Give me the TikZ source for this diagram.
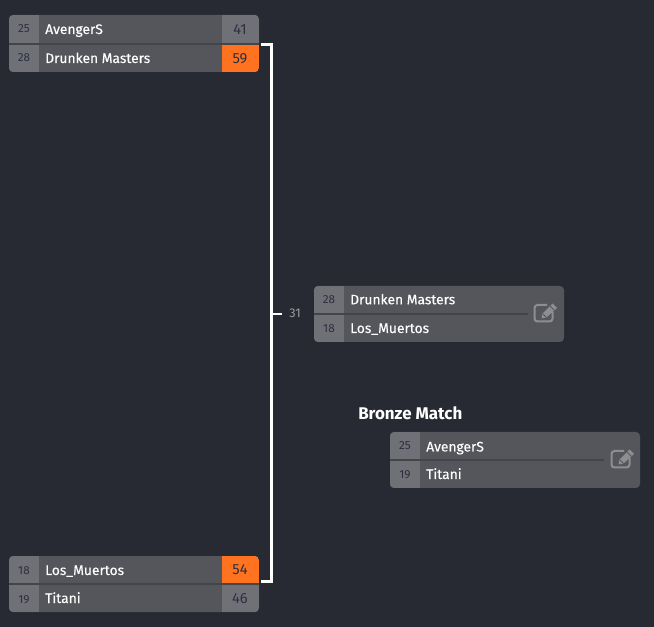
\documentclass[tikz,border=0pt]{standalone}
\usepackage{fontspec}
\setmainfont{Fira Sans}
\newfontfamily\teamf[FakeBold=0.25]{Fira Sans}
\definecolor{bgc}{HTML}{272A33}
\definecolor{mainc}{HTML}{55565B}
\definecolor{cellc}{HTML}{707177}
\definecolor{divc}{HTML}{444549}
\definecolor{orangec}{HTML}{FF7220}
\definecolor{darkt}{HTML}{2C3040}
\definecolor{iconc}{HTML}{8E8E90}
\definecolor{roundt}{HTML}{9A9BA0}
\tikzset{
  x=0.75pt,y=-0.75pt,
  team/.style={anchor=base west,inner sep=0pt,text=white,font=\teamf\fontsize{10.35}{12}\selectfont},
  seedt/.style={anchor=base,inner sep=0pt,text=darkt,font=\fontsize{8.8}{10}\selectfont},
  scoret/.style={anchor=base,inner sep=0pt,text=darkt,font=\fontsize{11}{12}\selectfont},
  boxc/.style={fill=mainc,rounded corners=3pt},
  divl/.style={draw=divc,line width=1.3pt},
  brk/.style={draw=white,line width=1.8pt,line cap=butt,line join=miter},
  iconl/.style={draw=iconc,line width=1.5pt}
}
% #1 name, #2 left x, #3 top y, #4 bottom y, #5 mid y
\newcommand{\matchbody}[5]{%
  \path[boxc] (#2,#3) rectangle (#2+250,#4);
  \begin{scope}
    \clip[rounded corners=3pt] (#2,#3) rectangle (#2+250,#4);
    \fill[cellc] (#2,#3) rectangle (#2+30,#4);
  \end{scope}
  \coordinate (#1) at (#2,#5);
}
\newcommand{\editicon}[2]{%
  \begin{scope}[shift={(#1,#2)}]
    \draw[iconl,rounded corners=2.2pt] (2,-8) -- (-10.5,-8) -- (-10.5,8.5) -- (7.5,8.5) -- (7.5,-1);
    \fill[iconc] (-3.5,5.5) -- (-2.5,0.5) -- (7.5,-9.5) -- (12,-5) -- (1.5,4.5) -- cycle;
    \draw[mainc,line width=0.7pt] (-2,1) -- (1.5,4.5);
    \draw[mainc,line width=0.7pt] (5.2,-6.8) -- (9.4,-2.6);
  \end{scope}
}
\begin{document}
\begin{tikzpicture}
\useasboundingbox (0,0) rectangle (654,627);
\fill[bgc] (0,0) rectangle (654,627);

% Match 1
\matchbody{mA}{9}{15}{72}{44}
\begin{scope}
  \clip[rounded corners=3pt] (9,15) rectangle (259,72);
  \fill[cellc] (222,15) rectangle (259,44);
  \fill[orangec] (222,44) rectangle (259,72);
\end{scope}
\draw[divl] (9,43.8) -- (259,43.8);
\node[seedt] (a1s) at (24,33) {25};
\node[team] (a1t) at (45,34) {AvengerS};
\node[scoret] (a1r) at (240,34.5) {41};
\node[seedt] (a2s) at (24,62) {28};
\node[team] (a2t) at (45,63) {Drunken Masters};
\node[scoret] (a2r) at (240,63.5) {59};

% Match 2
\matchbody{mB}{9}{556}{612}{584}
\begin{scope}
  \clip[rounded corners=3pt] (9,556) rectangle (259,612);
  \fill[orangec] (222,556) rectangle (259,584);
  \fill[cellc] (222,584) rectangle (259,612);
\end{scope}
\draw[divl] (9,584) -- (259,584);
\node[seedt] (b1s) at (24,574) {18};
\node[team] (b1t) at (45,575) {Los\_Muertos};
\node[scoret] (b1r) at (240,575) {54};
\node[seedt] (b2s) at (24,603) {19};
\node[team] (b2t) at (45,603) {Titani};
\node[scoret] (b2r) at (240,603.5) {46};

% Final
\matchbody{mC}{314}{286}{342}{314}
\draw[divl] (314,313.8) -- (528,313.8);
\node[seedt] (c1s) at (329,304) {28};
\node[team] (c1t) at (350,304.3) {Drunken Masters};
\node[seedt] (c2s) at (329,333) {18};
\node[team] (c2t) at (350,333) {Los\_Muertos};
\editicon{545}{313}

% Bronze
\node[anchor=base west,inner sep=0pt,text=white,font=\fontsize{12.7}{14}\selectfont\bfseries] (bronze) at (358,420) {Bronze Match};
\matchbody{mD}{390}{432}{488}{460}
\draw[divl] (390,460) -- (604,460);
\node[seedt] (d1s) at (405,450) {25};
\node[team] (d1t) at (426,451.5) {AvengerS};
\node[seedt] (d2s) at (405,479) {19};
\node[team] (d2t) at (426,479) {Titani};
\editicon{622}{459}

% Bracket
\coordinate (brkA) at (261,44.5);
\coordinate (brkB) at (261,581.5);
\coordinate (brkTop) at (271.5,44.5);
\coordinate (brkBot) at (271.5,581.5);
\coordinate (brkMid) at (271.5,314);
\coordinate (brkOut) at (282,314);
\draw[brk] (brkA) -- (brkTop) -- (brkBot) -- (brkB);
\draw[brk] (brkMid) -- (brkOut);
\node[anchor=base,inner sep=0pt,text=roundt,font=\fontsize{9.5}{11}\selectfont] (round) at (295,318) {31};
\end{tikzpicture}
\end{document}
